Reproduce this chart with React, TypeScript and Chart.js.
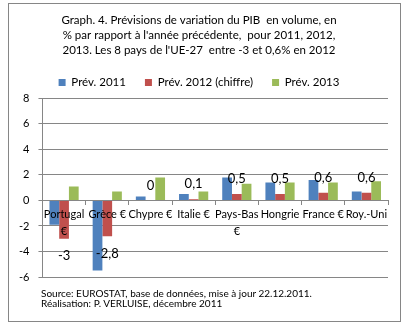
import React, { useEffect, useRef } from "react";
import { Chart, registerables } from "chart.js";

Chart.register(...registerables);

const titleLines = [
  "Graph. 4. Prévisions de variation du PIB  en volume, en",
  "% par rapport à l'année précédente,  pour 2011, 2012,",
  "2013. Les 8 pays de l'UE-27  entre -3 et 0,6% en 2012",
];
const categories: (string | string[])[] = [
  ["Portugal", "€"],
  "Grèce €",
  "Chypre €",
  "Italie €",
  ["Pays-Bas", "€"],
  "Hongrie",
  "France €",
  "Roy.-Uni",
];
const seriesNames = ["Prév. 2011", "Prév. 2012 (chiffre)", "Prév. 2013"];
const prev2011 = [-1.9, -5.5, 0.3, 0.5, 1.8, 1.4, 1.6, 0.7];
const prev2012 = [-3, -2.8, 0, 0.1, 0.5, 0.5, 0.6, 0.6];
const prev2013 = [1.1, 0.7, 1.8, 0.7, 1.3, 1.4, 1.4, 1.5];
const yMin = -6;
const yMax = 8;
const yStep = 2;
const footerLines = [
  "Source: EUROSTAT, base de données, mise à jour 22.12.2011.",
  "Réalisation: P. VERLUISE, décembre 2011",
];

const FONT = "Lato, 'Open Sans', sans-serif";
const GRID = "#868686";

const redLabelPlugin = {
  id: "redLabels",
  afterDatasetsDraw(chart: any) {
    const meta = chart.getDatasetMeta(1);
    const ctx = chart.ctx;
    ctx.save();
    ctx.font = `13px ${FONT}`;
    ctx.fillStyle = "#000";
    ctx.textAlign = "center";
    ctx.textBaseline = "middle";
    meta.data.forEach((el: any, i: number) => {
      const v = prev2012[i];
      const y = v >= 0 ? el.y - 15 : el.y + 17.5;
      ctx.fillText(String(v).replace(".", ","), el.x, y);
    });
    ctx.restore();
  },
};

export default function App() {
  const ref = useRef<HTMLCanvasElement | null>(null);
  useEffect(() => {
    if (!ref.current) return;
    const chart = new Chart(ref.current, {
      type: "bar",
      data: {
        labels: categories as any,
        datasets: [
          { label: seriesNames[0], data: prev2011, backgroundColor: "#4F81BD" },
          { label: seriesNames[1], data: prev2012, backgroundColor: "#C0504D" },
          { label: seriesNames[2], data: prev2013, backgroundColor: "#9BBB59" },
        ],
      },
      options: {
        responsive: false,
        animation: false,
        devicePixelRatio: 1,
        datasets: { bar: { categoryPercentage: 0.676, barPercentage: 1 } },
        layout: { padding: { left: 10, right: 16, top: 0, bottom: 49 } },
        plugins: {
          tooltip: { enabled: false },
          title: {
            display: true,
            text: titleLines,
            color: "#000",
            font: { family: FONT, size: 11.5, weight: "normal", lineHeight: 1.3 },
            padding: { top: 13, bottom: 0 },
          },
          legend: {
            display: true,
            fullSize: true,
            labels: {
              boxWidth: 7,
              boxHeight: 7,
              padding: 19,
              color: "#000",
              font: { family: FONT, size: 11.5 },
            },
          },
        },
        scales: {
          x: {
            position: { y: 0 } as any,
            grid: {
              drawOnChartArea: false,
              tickLength: 4,
              color: GRID,
            },
            border: { color: GRID },
            ticks: {
              z: 1,
              autoSkip: false,
              maxRotation: 0,
              minRotation: 0,
              padding: 2,
              color: "#000",
              font: { family: FONT, size: 11, lineHeight: 1.5 },
            },
          },
          y: {
            min: yMin,
            max: yMax,
            grid: { color: GRID, tickLength: 4 },
            border: { color: GRID },
            ticks: {
              stepSize: yStep,
              padding: 9,
              color: "#000",
              font: { family: FONT, size: 11 },
            },
          },
        },
      },
      plugins: [redLabelPlugin],
    });
    return () => chart.destroy();
  }, []);

  return (
    <div style={{ position: "absolute", left: 0, top: 0, width: 404, height: 326, background: "#fff" }}>
      <div
        style={{
          position: "absolute",
          left: 8,
          top: 3,
          width: 393,
          height: 319,
          border: `1px solid ${GRID}`,
          boxSizing: "border-box",
        }}
      />
      <canvas
        ref={ref}
        width={404}
        height={326}
        style={{ position: "absolute", left: 0, top: 0, width: 404, height: 326 }}
      />
      <div
        style={{
          position: "absolute",
          left: 41,
          top: 288,
          fontFamily: FONT,
          fontSize: 10,
          lineHeight: "10px",
          color: "#000",
          whiteSpace: "nowrap",
        }}
      >
        {footerLines.map((l, i) => (
          <div key={i}>{l}</div>
        ))}
      </div>
    </div>
  );
}
